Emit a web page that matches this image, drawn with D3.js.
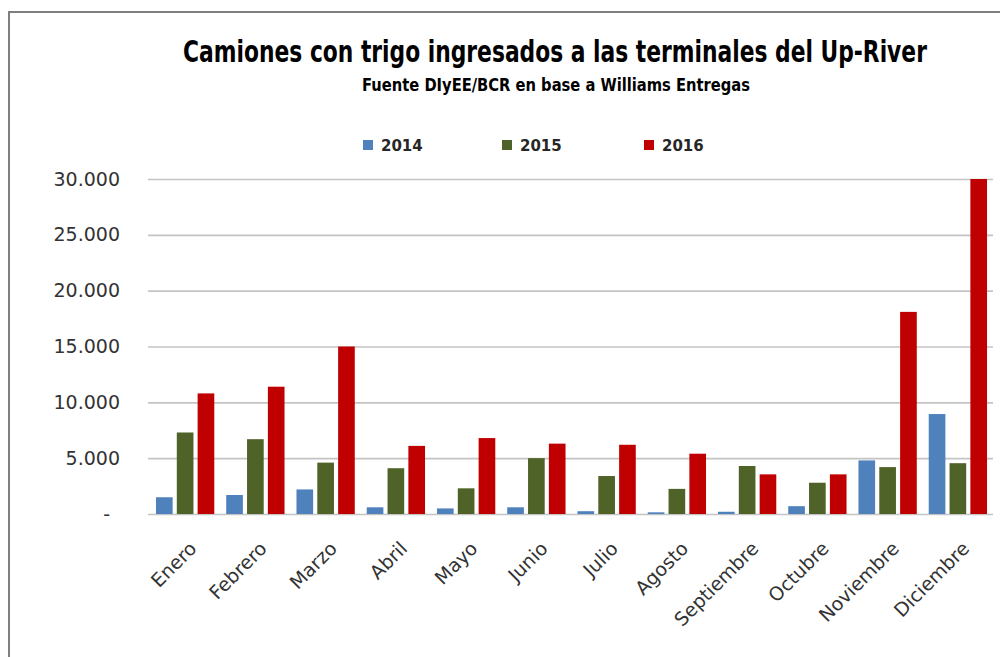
<!DOCTYPE html>
<html>
<head>
<meta charset="utf-8">
<script src="https://cdn.jsdelivr.net/npm/d3@7"></script>
<style>
  html, body { margin: 0; padding: 0; background: #fff; }
  svg { display: block; }
</style>
</head>
<body>
<script>
// Datos (camiones por mes)
const months = ["Enero", "Febrero", "Marzo", "Abril", "Mayo", "Junio",
  "Julio", "Agosto", "Septiembre", "Octubre", "Noviembre", "Diciembre"];
const years = ["2014", "2015", "2016"];
const v2014 = [1500, 1700, 2200, 600, 500, 600, 250, 150, 200, 700, 4800, 8950];
const v2015 = [7300, 6700, 4600, 4100, 2300, 5000, 3400, 2250, 4300, 2800, 4200, 4550];
const v2016 = [10800, 11400, 15000, 6100, 6800, 6300, 6200, 5400, 3550, 3550, 18100, 30000];
const yTicks = [0, 5000, 10000, 15000, 20000, 25000, 30000];

const COLORS = {"2014": "#4f81bd", "2015": "#4f6228", "2016": "#c00000"};
const seriesByYear = {"2014": v2014, "2015": v2015, "2016": v2016};

const width = 1000, height = 657;
const plot = {left: 148, right: 993, top: 179, bottom: 514};

const svg = d3.select("body").append("svg")
  .attr("width", width)
  .attr("height", height)
  .attr("viewBox", [0, 0, width, height]);

// Marco (solo borde superior e izquierdo visibles)
svg.append("line")
  .attr("x1", 9).attr("x2", 9).attr("y1", 11).attr("y2", height)
  .attr("stroke", "#7f7f7f").attr("stroke-width", 2);
svg.append("line")
  .attr("x1", 8).attr("x2", width).attr("y1", 12).attr("y2", 12)
  .attr("stroke", "#7f7f7f").attr("stroke-width", 2);

// Scales
const x0 = d3.scaleBand()
  .domain(months)
  .range([plot.left + 2, plot.right])
  .paddingInner(0.17)
  .paddingOuter(0.085);
const x1 = d3.scaleBand()
  .domain(years)
  .range([0, x0.bandwidth()])
  .paddingInner(0.2);
const y = d3.scaleLinear()
  .domain([0, 30000])
  .range([plot.bottom, plot.top]);

const esAR = d3.formatLocale({decimal: ",", thousands: ".", grouping: [3], currency: ["$", ""]});
const fmt = esAR.format(",.0f");

// Y axis + gridlines
const yAxisG = svg.append("g")
  .attr("transform", `translate(${plot.left},0)`)
  .call(d3.axisLeft(y)
    .tickValues(yTicks)
    .tickSize(-(plot.right - plot.left))
    .tickPadding(28)
    .tickFormat(d => d === 0 ? "-" : fmt(d)));
yAxisG.select(".domain").remove();
yAxisG.selectAll(".tick line")
  .attr("stroke", "#c4c4c4")
  .attr("stroke-width", 1.6);
yAxisG.selectAll(".tick text")
  .attr("fill", "#333333")
  .style("font", "19px 'DejaVu Sans', sans-serif")
  .attr("dx", d => d === 0 ? -10 : 0);

// Bars
const groups = svg.append("g")
  .selectAll("g")
  .data(months)
  .join("g")
  .attr("transform", m => `translate(${x0(m)},0)`);

groups.selectAll("rect")
  .data((m, i) => years.map(yr => ({year: yr, value: seriesByYear[yr][i]})))
  .join("rect")
  .attr("x", d => x1(d.year))
  .attr("y", d => y(d.value))
  .attr("width", x1.bandwidth())
  .attr("height", d => y(0) - y(d.value))
  .attr("fill", d => COLORS[d.year]);

// X axis labels
const xAxisG = svg.append("g")
  .attr("transform", `translate(0,${plot.bottom})`)
  .call(d3.axisBottom(x0).tickSize(0).tickFormat(d => d));
xAxisG.select(".domain").remove();
xAxisG.selectAll(".tick text")
  .attr("fill", "#333333")
  .style("font", "19px 'DejaVu Sans', sans-serif")
  .attr("text-anchor", "end")
  .attr("x", 0).attr("y", 0).attr("dy", "0.35em")
  .attr("transform", "translate(8,31) rotate(-45)");

// Títulos: fuente condensada, estirada en horizontal hasta el ancho del original
function condensedText(cx, cy, size, targetW, str) {
  const g = svg.append("g").attr("transform", `translate(${cx},${cy})`);
  const t = g.append("text")
    .attr("text-anchor", "middle")
    .style("font-family", "'DejaVu Sans Condensed', 'DejaVu Sans', sans-serif")
    .style("font-weight", "bold")
    .style("font-size", size + "px")
    .attr("fill", "#000")
    .text(str);
  const w = t.node().getComputedTextLength();
  if (w > 0) g.attr("transform", `translate(${cx},${cy}) scale(${(targetW / w).toFixed(4)},1)`);
  return t;
}

condensedText(555, 62, 30, 744, "Camiones con trigo ingresados a las terminales del Up-River");
condensedText(556, 91, 18, 388, "Fuente DIyEE/BCR en base a Williams Entregas");

// Legend
const legendX = [363, 502, 644];
const legend = svg.append("g")
  .selectAll("g")
  .data(years)
  .join("g")
  .attr("transform", (d, i) => `translate(${legendX[i]},140)`);
legend.append("rect")
  .attr("width", 10).attr("height", 10)
  .attr("fill", d => COLORS[d]);
legend.append("text")
  .attr("x", 18).attr("y", 11)
  .attr("fill", "#262626")
  .style("font", "bold 15px 'DejaVu Sans', sans-serif")
  .text(d => d);
</script>
</body>
</html>
